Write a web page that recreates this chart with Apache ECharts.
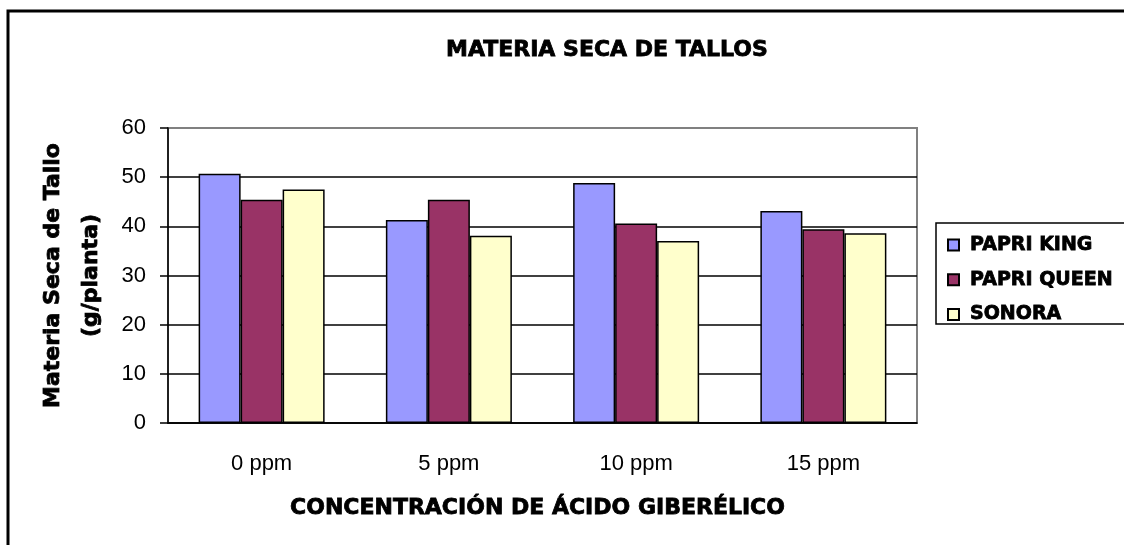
<!DOCTYPE html>
<html>
<head>
<meta charset="utf-8">
<script src="https://cdn.jsdelivr.net/npm/echarts@6/dist/echarts.min.js"></script>
<style>
  html, body { margin: 0; padding: 0; background: #fff; }
  #chart { width: 1124px; height: 545px; }
</style>
</head>
<body>
<div id="chart"></div>
<script>
// data
const categories = ['0 ppm', '5 ppm', '10 ppm', '15 ppm'];
const papriKing = [50.7, 41.3, 48.8, 43.1];
const papriQueen = [45.4, 45.4, 40.6, 39.4];
const sonora = [47.5, 38.1, 37.0, 38.6];
const seriesNames = ['PAPRI KING', 'PAPRI QUEEN', 'SONORA'];
const seriesColors = ['#9999FF', '#993366', '#FFFFCC'];

const boldFont = '"DejaVu Sans", sans-serif';
const plainFont = '"Liberation Sans", Arial, sans-serif';
// heavy black headings, like the original
const heavy = { fontFamily: boldFont, fontWeight: 'bold', color: '#000', textBorderColor: '#000', textBorderWidth: 0.8 };

const chart = echarts.init(document.getElementById('chart'), null, { renderer: 'canvas' });

function bar(name, data, color) {
  return {
    name,
    type: 'bar',
    data,
    barWidth: 42,
    barGap: '0%',
    itemStyle: { color, borderColor: '#000', borderWidth: 1.5 },
    emphasis: { disabled: true },
  };
}

chart.setOption({
  animation: false,
  backgroundColor: '#fff',
  title: {
    text: 'MATERIA SECA DE TALLOS',
    left: 441,
    top: 34,
    textStyle: Object.assign({}, heavy, { fontSize: 22 }),
  },
  graphic: [
    { type: 'rect', shape: { x: 8, y: 11, width: 1130, height: 560 },
      style: { fill: 'none', stroke: '#000', lineWidth: 3 } },
    { type: 'rect', shape: { x: 936, y: 223, width: 200, height: 101 },
      style: { fill: '#fff', stroke: '#000', lineWidth: 1.5 }, z: -1 },
  ],
  legend: {
    orient: 'vertical',
    left: 947,
    top: 235,
    padding: 0,
    itemGap: 15,
    itemWidth: 11,
    itemHeight: 11,
    icon: 'rect',
    data: seriesNames,
    textStyle: Object.assign({}, heavy, { fontSize: 19, padding: [0, 0, 0, 6] }),
  },
  grid: {
    left: 168, right: 207, top: 128, bottom: 122,
    show: true, borderColor: '#808080', borderWidth: 2, backgroundColor: '#fff',
  },
  xAxis: {
    type: 'category',
    data: categories,
    name: 'CONCENTRACIÓN DE ÁCIDO GIBERÉLICO',
    nameLocation: 'middle',
    nameGap: 74,
    nameTextStyle: Object.assign({}, heavy, { fontSize: 22, padding: [0, 10, 0, 0] }),
    axisLine: { lineStyle: { color: '#000', width: 1.5 } },
    axisTick: { length: 9, lineStyle: { color: '#000', width: 1.5 } },
    axisLabel: { margin: 30, fontFamily: plainFont, fontSize: 22, color: '#000' },
  },
  yAxis: {
    type: 'value',
    min: 0,
    max: 60,
    interval: 10,
    name: 'Materia Seca de Tallo\n(g/planta)',
    nameLocation: 'middle',
    nameRotate: 90,
    nameGap: 56,
    nameTextStyle: Object.assign({}, heavy, { fontSize: 22, lineHeight: 38, align: 'center' }),
    axisLine: { show: true, lineStyle: { color: '#000', width: 1.5 } },
    axisTick: { show: true, length: 8, lineStyle: { color: '#000', width: 1.5 } },
    axisLabel: { margin: 22, fontFamily: plainFont, fontSize: 22, color: '#000' },
    splitLine: {
      lineStyle: { color: ['#000', '#000', '#000', '#000', '#000', '#000', '#808080'], width: 1.5 },
    },
  },
  series: [
    bar(seriesNames[0], papriKing, seriesColors[0]),
    bar(seriesNames[1], papriQueen, seriesColors[1]),
    bar(seriesNames[2], sonora, seriesColors[2]),
  ],
});
</script>
</body>
</html>
